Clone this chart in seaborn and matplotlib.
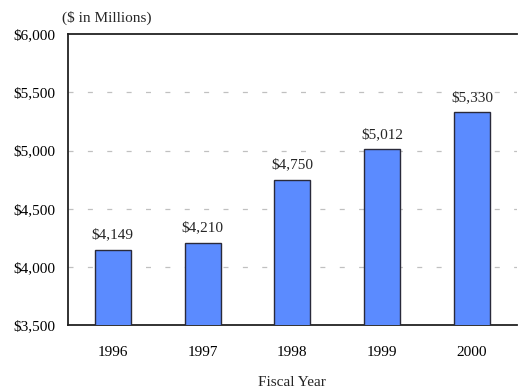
import matplotlib
matplotlib.use("Agg")
import matplotlib.pyplot as plt
import seaborn as sns
import pandas as pd

years = ["1996", "1997", "1998", "1999", "2000"]
values = [4149, 4210, 4750, 5012, 5330]
value_labels = ["$4,149", "$4,210", "$4,750", "$5,012", "$5,330"]
y_ticks = [3500, 4000, 4500, 5000, 5500, 6000]
y_tick_labels = ["$3,500", "$4,000", "$4,500", "$5,000", "$5,500", "$6,000"]

df = pd.DataFrame({"year": years, "value": values})

sns.set_theme(style="white")
plt.rcParams["font.family"] = ["Liberation Serif", "DejaVu Serif"]
FS = 11

fig = plt.figure(figsize=(5.18, 3.88), dpi=100)
ax = fig.add_axes([0.131, 0.162, 0.867, 0.750])

sns.barplot(data=df, x="year", y="value", ax=ax, color="#5B8BFF",
            saturation=1, width=0.4, edgecolor="#2a2a3a", linewidth=1.0,
            zorder=3)

ax.set_ylim(3500, 6000)
ax.set_xlim(-0.5, 4.5)
ax.set_yticks(y_ticks)
ax.set_yticklabels(y_tick_labels, fontsize=FS, color="black")
ax.tick_params(axis="x", labelsize=FS, pad=15, length=0, colors="black")
ax.tick_params(axis="y", length=0, pad=9)

# light dashed reference lines
for yv in y_ticks[1:-1]:
    ax.axhline(yv, color="#c0c0c0", linewidth=0.9, dashes=(4, 11.5), zorder=1)

for sp in ["left", "bottom", "top"]:
    ax.spines[sp].set_visible(True)
    ax.spines[sp].set_color("#222222")
    ax.spines[sp].set_linewidth(1.3)
ax.spines["right"].set_visible(False)

for bar, lab in zip(ax.patches, value_labels):
    ax.annotate(lab, (bar.get_x() + bar.get_width() / 2, bar.get_height()),
                xytext=(0, 6), textcoords="offset points",
                ha="center", va="bottom", fontsize=FS)

ax.set_xlabel("Fiscal Year", fontsize=FS, labelpad=12)
ax.set_ylabel("")
fig.text(0.12, 0.953, "($ in Millions)", ha="left", va="center", fontsize=FS)

fig.savefig("out.png", dpi=100)
